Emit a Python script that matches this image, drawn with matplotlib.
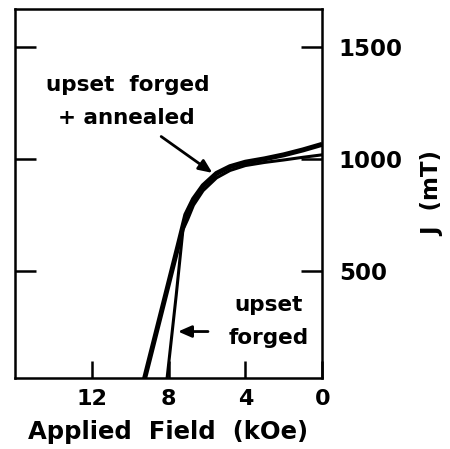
import matplotlib
matplotlib.use("Agg")
import matplotlib.pyplot as plt

# Data (H in kOe, J in mT)
annealed_H = [0, 1, 2, 3, 4, 4.8, 5.5, 6.2, 6.7, 7.1, 7.5, 8.3, 9.3]
annealed_J = [1065, 1040, 1018, 1000, 985, 965, 935, 880, 820, 750, 612, 340, 0]
forged_H = [0, 1, 2, 3, 4, 4.8, 5.5, 6.2, 6.7, 7.0, 7.25, 7.6, 8.1]
forged_J = [1018, 1007, 995, 984, 970, 948, 915, 858, 793, 730, 683, 390, 0]
x_ticks = [12, 8, 4, 0]
y_ticks = [500, 1000, 1500]

plt.rcParams['font.family'] = ['DejaVu Sans']
plt.rcParams['font.weight'] = 'bold'

fig = plt.figure(figsize=(4.5, 4.49), dpi=100)
ax = fig.add_axes([0.033, 0.158, 0.683, 0.822])

ax.plot(annealed_H, annealed_J, color='black', lw=3.6, solid_capstyle='butt')
ax.plot(forged_H, forged_J, color='black', lw=2.2, solid_capstyle='butt')

ax.set_xlim(16, 0)
ax.set_ylim(20, 1670)

for s in ax.spines.values():
    s.set_linewidth(1.8)

ax.set_xticks(x_ticks)
ax.set_xticklabels([str(v) for v in x_ticks], fontsize=16, fontweight='bold')
ax.set_yticks(y_ticks)
ax.set_yticklabels([str(v) for v in y_ticks], fontsize=16.5, fontweight='bold')
ax.tick_params(axis='x', direction='in', length=12, width=1.8, pad=8)
ax.tick_params(axis='y', direction='in', length=15, width=1.8, pad=12,
               left=True, right=True, labelleft=False, labelright=True)

ax.set_xlabel('Applied  Field  (kOe)', fontsize=17.5, fontweight='bold', labelpad=8)
fig.text(0.962, 0.57, 'J  (mT)', rotation=90, fontsize=16.5, fontweight='bold',
         ha='center', va='center')

ax.text(10.1, 1330, 'upset  forged', fontsize=15.5, fontweight='bold', ha='center', va='center')
ax.text(10.2, 1182, '+ annealed', fontsize=15.5, fontweight='bold', ha='center', va='center')
ax.annotate('', xy=(5.6, 930), xytext=(8.5, 1107),
            arrowprops=dict(arrowstyle='-|>,head_length=0.8,head_width=0.35',
                            color='black', lw=2))

ax.text(2.8, 348, 'upset', fontsize=15.5, fontweight='bold', ha='center', va='center')
ax.text(2.8, 200, 'forged', fontsize=15.5, fontweight='bold', ha='center', va='center')
ax.annotate('', xy=(7.65, 228), xytext=(5.8, 228),
            arrowprops=dict(arrowstyle='-|>,head_length=0.8,head_width=0.35',
                            color='black', lw=2))

fig.savefig('out.png', dpi=100)
